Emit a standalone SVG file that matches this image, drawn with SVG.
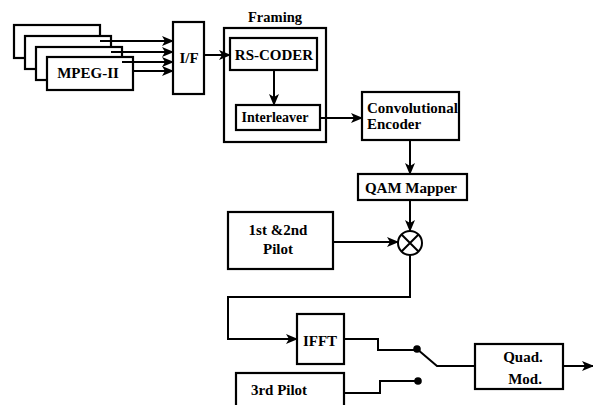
<svg xmlns="http://www.w3.org/2000/svg" width="593" height="405" viewBox="0 0 593 405">
<style>
.box{fill:#fff;stroke:#000;stroke-width:2.2}
.ln{fill:none;stroke:#000;stroke-width:2}
text{font-family:'Liberation Serif','DejaVu Serif',serif;font-weight:bold;font-size:15px;fill:#000}
.c{text-anchor:middle}
</style>
<defs>
<marker id="ah" markerUnits="userSpaceOnUse" markerWidth="12" markerHeight="10" refX="11" refY="5" orient="auto">
<path d="M0,0 L12,5 L0,10 L3,5 z" fill="#000"/>
</marker>
</defs>
<rect width="593" height="405" fill="#fff"/>
<g id="mpeg">
<rect class="box" x="14" y="25" width="86" height="33"/>
<rect class="box" x="25" y="36" width="86" height="33"/>
<rect class="box" x="36" y="47" width="86" height="33"/>
<rect class="box" x="47" y="57" width="86" height="33"/>
<text class="c" x="88" y="78">MPEG-II</text>
</g>
<g id="if">
<rect class="box" x="173" y="22" width="31" height="72"/>
<text class="c" x="189" y="63">I/F</text>
</g>
<g id="framing">
<rect class="box" x="224" y="28" width="102" height="114"/>
<text class="c" x="275" y="22" style="font-size:14.5px">Framing</text>
</g>
<g id="rscoder">
<rect class="box" x="230" y="38" width="87" height="32"/>
<text class="c" x="274" y="60">RS-CODER</text>
</g>
<g id="interleaver">
<rect class="box" x="236" y="105" width="84" height="25"/>
<text class="c" x="275" y="122" style="font-size:14px">Interleaver</text>
</g>
<g id="conv">
<rect class="box" x="362" y="92" width="97" height="48"/>
<text x="367" y="113">Convolutional</text>
<text x="367" y="129">Encoder</text>
</g>
<g id="qam">
<rect class="box" x="358" y="174" width="109" height="26"/>
<text class="c" x="411" y="193">QAM Mapper</text>
</g>
<g id="mult">
<circle class="ln" cx="410" cy="243" r="12" stroke-width="2.4"/>
<path class="ln" d="M401.5,234.5 L418.5,251.5 M418.5,234.5 L401.5,251.5"/>
</g>
<g id="pilot12">
<rect class="box" x="228" y="212" width="105" height="57"/>
<text class="c" x="278" y="235">1st &amp;2nd</text>
<text class="c" x="278" y="254">Pilot</text>
</g>
<g id="ifft">
<rect class="box" x="297" y="314" width="47" height="50"/>
<text class="c" x="320" y="346">IFFT</text>
</g>
<g id="pilot3">
<rect class="box" x="236" y="373" width="108" height="40"/>
<text class="c" x="279" y="395">3rd Pilot</text>
</g>
<g id="switch">
<circle cx="417" cy="349" r="3.8" fill="#000"/>
<circle cx="418" cy="381" r="3.8" fill="#000"/>
</g>
<g id="quadmod">
<rect class="box" x="475" y="344" width="88" height="45"/>
<text class="c" x="523" y="362">Quad.</text>
<text class="c" x="525" y="384">Mod.</text>
</g>
<g id="connectors">
<path class="ln" d="M100,41 H173" marker-end="url(#ah)"/>
<path class="ln" d="M111,52 H173" marker-end="url(#ah)"/>
<path class="ln" d="M122,62 H173" marker-end="url(#ah)"/>
<path class="ln" d="M133,71 H173" marker-end="url(#ah)"/>
<path class="ln" d="M204,55 H230" marker-end="url(#ah)"/>
<path class="ln" d="M274,70 V105" marker-end="url(#ah)"/>
<path class="ln" d="M320,118 H362" marker-end="url(#ah)"/>
<path class="ln" d="M410,140 V174" marker-end="url(#ah)"/>
<path class="ln" d="M410,200 V231" marker-end="url(#ah)"/>
<path class="ln" d="M333,242 H398" marker-end="url(#ah)"/>
<path class="ln" d="M410,255 V297 H228 V339 H297" marker-end="url(#ah)"/>
<path class="ln" d="M344,339 H378 V350 H417"/>
<path class="ln" d="M417,349 L437,366 H475"/>
<path class="ln" d="M344,393 H380 V381 H418"/>
<path class="ln" d="M563,366 H593" marker-end="url(#ah)"/>
</g>
</svg>
